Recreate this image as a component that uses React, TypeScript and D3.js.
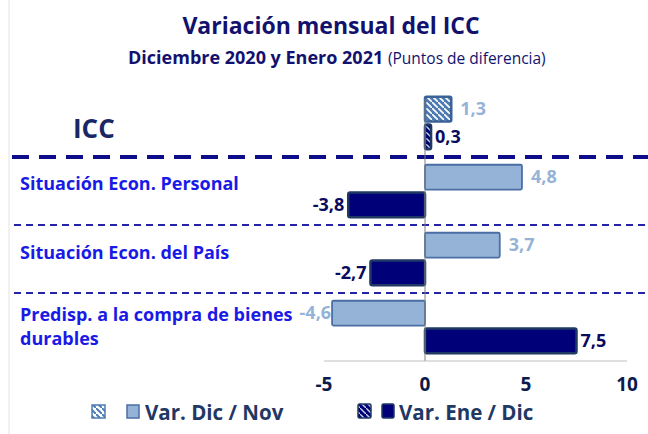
import React from 'react';
import * as d3 from 'd3';

const categories = ['ICC', 'Situación Econ. Personal', 'Situación Econ. del País', 'Predisp. a la compra de bienes durables'];
const varDicNov = [1.3, 4.8, 3.7, -4.6];
const varEneDic = [0.3, -3.8, -2.7, 7.5];
const xTicks = [-5, 0, 5, 10];

const W = 648;
const H = 434;
const FONT = '"Open Sans", "Noto Sans", sans-serif';
const NAVY = '#12126e';
const LIGHT = '#95b3d7';
const LIGHT_STROKE = '#4a6fa5';
const DARK = '#000078';
const DARK_STROKE = '#1f3864';
const LABEL_BLUE = '#1a1ae6';

const fmt = (v: number) => v.toFixed(1).replace('.', ',');

export default function App() {
  const x = d3.scaleLinear().domain([-5, 10]).range([324, 627]);
  const y = d3.scaleBand().domain(categories).range([89, 361]);
  const inner = d3.scaleBand().domain(['dic', 'ene']).range([0, y.bandwidth()]).paddingInner(0.1).paddingOuter(0.28);

  const rows = categories.map((c, i) => ({ c, i, dic: varDicNov[i], ene: varEneDic[i] }));
  const bh = inner.bandwidth();

  return (
    <div style={{ position: 'absolute', left: 0, top: 0 }}>
      <svg width={W} height={H} style={{ display: 'block', background: '#fff' }} fontFamily={FONT}>
        <defs>
          <pattern id="hatchLight" width="6" height="6" patternUnits="userSpaceOnUse">
            <rect width="6" height="6" fill="#4f7bb3" />
            <path d="M-1,-1 l2,2 M0,0 l6,6 M5,5 l2,2" stroke="#fff" strokeWidth="1.6" />
          </pattern>
          <pattern id="hatchDark" width="6" height="6" patternUnits="userSpaceOnUse">
            <rect width="6" height="6" fill={DARK} />
            <path d="M-1,-1 l2,2 M0,0 l6,6 M5,5 l2,2" stroke="#c8d4ea" strokeWidth="1.4" />
          </pattern>
          <pattern id="hatchLegLight" width="6" height="6" patternUnits="userSpaceOnUse">
            <rect width="6" height="6" fill="#fff" />
            <path d="M-1,-1 l2,2 M0,0 l6,6 M5,5 l2,2" stroke="#4f7bb3" strokeWidth="2" />
          </pattern>
        </defs>

        <line x1={9} x2={9} y1={0} y2={H} stroke="#ececec" strokeWidth={1.5} />

        <text x={331} y={34} textAnchor="middle" fontSize={23} fontWeight={700} fill={NAVY}>
          Variación mensual del ICC
        </text>
        <text x={128} y={64} fontSize={18} fontWeight={700} fill={NAVY}>
          Diciembre 2020 y Enero 2021{' '}
          <tspan fontWeight={400} fontSize={15.5}>(Puntos de diferencia)</tspan>
        </text>

        {/* separators */}
        {categories.slice(1).map((c, i) => (
          <line
            key={c}
            x1={i === 0 ? 12 : 14}
            x2={W}
            y1={y(c)!}
            y2={y(c)!}
            stroke={i === 0 ? '#0d0d8a' : '#2323a8'}
            strokeWidth={i === 0 ? 4 : 2}
            strokeDasharray={i === 0 ? '17 10' : '7 5'}
          />
        ))}

        {/* category labels */}
        <text x={73} y={y('ICC')! + y.bandwidth() / 2 + 15} fontSize={26} fontWeight={700} fill="#1a2766">ICC</text>
        <text x={20} y={y(categories[1])! + 33} fontSize={18} fontWeight={700} fill={LABEL_BLUE}>{categories[1]}</text>
        <text x={20} y={y(categories[2])! + 34} fontSize={18} fontWeight={700} fill={LABEL_BLUE}>{categories[2]}</text>
        <text x={20} y={y(categories[3])! + 28} fontSize={18} fontWeight={700} fill={LABEL_BLUE}>
          <tspan x={20}>Predisp. a la compra de bienes</tspan>
          <tspan x={20} dy={24}>durables</tspan>
        </text>

        {/* bars */}
        {rows.map(r => {
          const y0 = y(r.c)!;
          const yd = y0 + inner('dic')!;
          const ye = y0 + inner('ene')!;
          const hatched = r.i === 0;
          return (
            <g key={r.c}>
              <rect
                x={Math.min(x(0), x(r.dic))}
                y={yd}
                width={Math.abs(x(r.dic) - x(0))}
                height={bh}
                fill={hatched ? 'url(#hatchLight)' : LIGHT}
                stroke={hatched ? '#3a6296' : LIGHT_STROKE}
                strokeWidth={hatched ? 2.5 : 1.8}
                rx={1.5}
              />
              <rect
                x={Math.min(x(0), x(r.ene))}
                y={ye}
                width={Math.abs(x(r.ene) - x(0))}
                height={bh}
                fill={hatched ? 'url(#hatchDark)' : DARK}
                stroke={DARK_STROKE}
                strokeWidth={2.5}
                rx={2}
              />
              <text
                x={r.dic >= 0 ? x(r.dic) + 9 : x(r.dic) - 1}
                y={yd + bh / 2 + 6}
                textAnchor={r.dic >= 0 ? 'start' : 'end'}
                fontSize={18}
                fontWeight={700}
                fill={LIGHT}
              >
                {fmt(r.dic)}
              </text>
              <text
                x={r.ene >= 0 ? x(r.ene) + 4 : x(r.ene) - 4}
                y={ye + bh / 2 + 6}
                textAnchor={r.ene >= 0 ? 'start' : 'end'}
                fontSize={18}
                fontWeight={700}
                fill="#0a0a5e"
              >
                {fmt(r.ene)}
              </text>
            </g>
          );
        })}

        {/* zero line and axis */}
        <line x1={x(0)} x2={x(0)} y1={99} y2={361} stroke="#7f7f7f" strokeWidth={1} />
        <line x1={x(-5)} x2={x(10)} y1={361} y2={361} stroke="#bfbfbf" strokeWidth={1} />
        {xTicks.map(t => (
          <text key={t} x={x(t)} y={391} textAnchor="middle" fontSize={19} fontWeight={700} fill="#0d1a4d">
            {t}
          </text>
        ))}

        {/* legend */}
        <g>
          <rect x={92} y={405} width={13} height={13} fill="url(#hatchLegLight)" stroke="#4f7bb3" strokeWidth={1.5} />
          <rect x={127} y={405} width={12} height={13} fill={LIGHT} stroke={LIGHT_STROKE} strokeWidth={1.5} />
          <text x={145} y={420} fontSize={20.5} fontWeight={700} fill="#1f3864">Var. Dic / Nov</text>
          <rect x={358} y={404} width={13} height={14} fill="url(#hatchDark)" stroke={DARK_STROKE} strokeWidth={1.5} rx={1.5} />
          <rect x={382} y={404} width={12} height={14} fill={DARK} stroke={DARK_STROKE} strokeWidth={1.5} rx={1.5} />
          <text x={399} y={420} fontSize={20.5} fontWeight={700} fill="#1f3864">Var. Ene / Dic</text>
        </g>
      </svg>
    </div>
  );
}
